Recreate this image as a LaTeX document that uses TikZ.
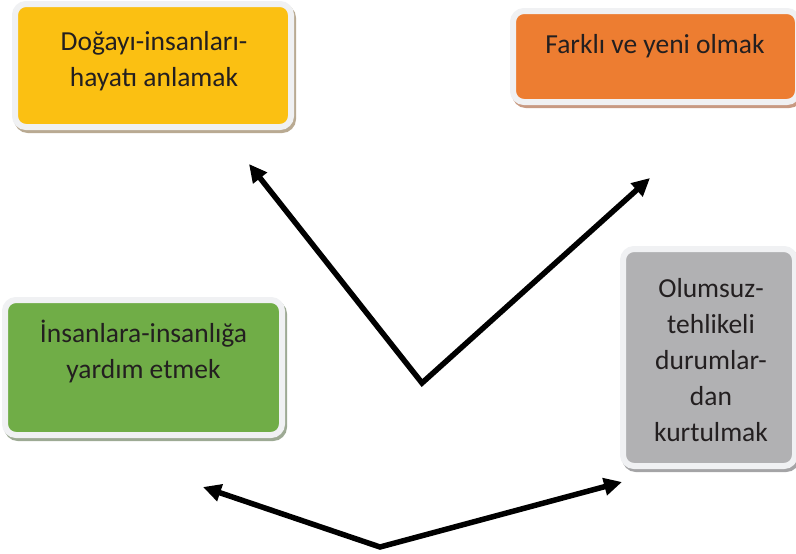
\documentclass[tikz,border=0pt]{standalone}
\usepackage{fontspec}
\setmainfont{Carlito}
\usetikzlibrary{arrows.meta}

\definecolor{boxgold}{HTML}{FBC012}
\definecolor{boxorange}{HTML}{ED7D31}
\definecolor{boxgreen}{HTML}{70AD47}
\definecolor{boxgray}{HTML}{B1B1B3}
\definecolor{ringgray}{HTML}{F0F1F3}
\definecolor{shadegold}{HTML}{B9AA92}
\definecolor{shadeorange}{HTML}{C89A82}
\definecolor{shadegreen}{HTML}{9DAA94}
\definecolor{shadegray}{HTML}{A4A4A6}
\definecolor{inktext}{HTML}{231F20}

\begin{document}
\begin{tikzpicture}[x=1pt, y=-1pt,
  card/.style 2 args={rectangle, rounded corners=11pt, fill=#1, draw=ringgray, line width=6pt,
    preaction={draw=#2, fill=#2, line width=6pt, transform canvas={shift={(2pt,-3pt)}}}},
  cardtext/.style={font=\fontsize{27.5}{36}\selectfont, align=center, text=inktext, anchor=base, inner sep=0pt},
  bigarrow/.style={line width=5.5pt, {Triangle[length=18pt,width=17pt]}-{Triangle[length=18pt,width=17pt]}, line join=miter}]

\useasboundingbox (0,0) rectangle (796,554);

% Boxes
\node (doga) [card={boxgold}{shadegold}, minimum width=276pt, minimum height=123pt] at (153,65.5) {};
\node (farkli) [card={boxorange}{shadeorange}, minimum width=285pt, minimum height=91pt] at (655.5,56.5) {};
\node (yardim) [card={boxgreen}{shadegreen}, minimum width=277pt, minimum height=135pt] at (143.5,367.5) {};
\node (olumsuz) [card={boxgray}{shadegray}, minimum width=172pt, minimum height=217pt] at (709,357.5) {};

% Texts (anchored at the baseline of the last line)
\node (dogaT) [cardtext] at (154,86) {Doğayı-insanları-\\hayatı anlamak};
\node (farkliT) [cardtext] at (655,53) {Farklı ve yeni olmak};
\node (yardimT) [cardtext] at (143.5,378) {İnsanlara-insanlığa\\yardım etmek};
\node (olumsuzT) [cardtext] at (711,441) {Olumsuz-\\tehlikeli\\durumlar-\\dan\\kurtulmak};

% Arrow ends
\coordinate (topV) at (422,383);
\coordinate (topL) at (249,164);
\coordinate (topR) at (650,178);
\coordinate (botV) at (380,547);
\coordinate (botL) at (203,487);
\coordinate (botR) at (622,482);

% Arrows
\draw[bigarrow] (topL) -- (topV) -- (topR);
\draw[bigarrow] (botL) -- (botV) -- (botR);

\end{tikzpicture}
\end{document}
